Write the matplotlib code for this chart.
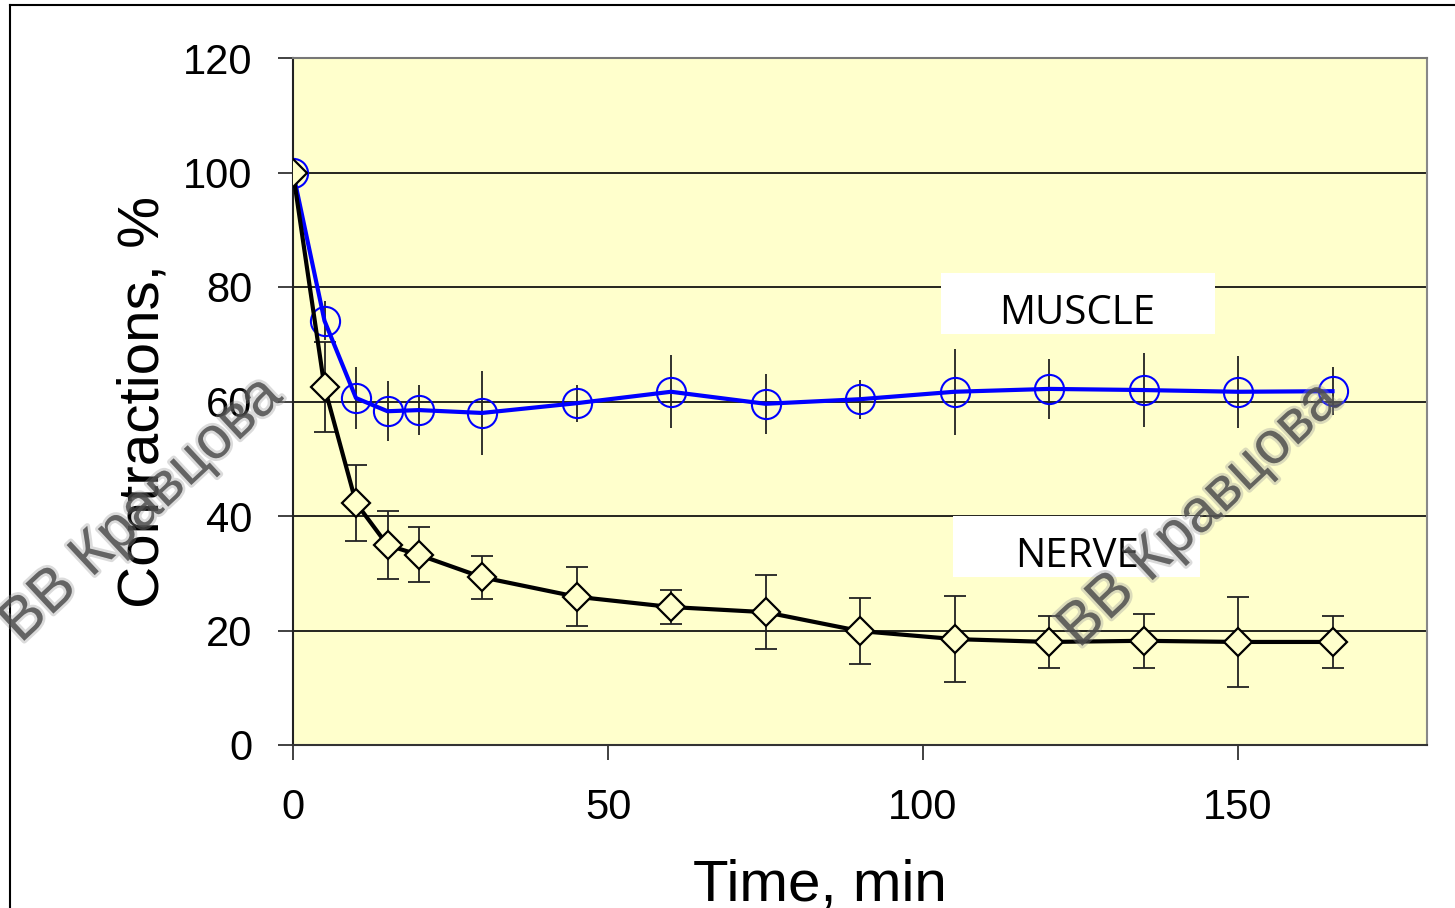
import matplotlib.pyplot as plt
import matplotlib.patheffects as pe
from matplotlib.patches import Rectangle

time_min = [0, 5, 10, 15, 20, 30, 45, 60, 75, 90, 105, 120, 135, 150, 165]

muscle = [100, 74.1, 60.6, 58.3, 58.5, 58.0, 59.7, 61.7, 59.6, 60.4, 61.7, 62.2, 62.0, 61.7, 61.8]
muscle_err = [0, 3.4, 5.4, 5.2, 4.3, 7.3, 3.2, 6.4, 5.2, 3.4, 7.5, 5.2, 6.4, 6.3, 4.2]

nerve = [100, 62.5, 42.3, 34.9, 33.2, 29.3, 25.9, 24.1, 23.2, 19.9, 18.5, 18.0, 18.2, 18.0, 18.0]
nerve_err = [0, 7.9, 6.6, 5.9, 4.8, 3.8, 5.2, 2.9, 6.5, 5.8, 7.5, 4.5, 4.7, 7.9, 4.5]

bg = "#ffffcc"
W, H = 1455, 908

fig = plt.figure(figsize=(14.55, 9.08), dpi=100)
ax = fig.add_axes([293 / W, 1 - 745 / H, (1427 - 293) / W, (745 - 58) / H])
ax.set_facecolor(bg)

# outer frame of the chart area
fig.add_artist(plt.Line2D([10 / W, 10 / W], [0, 1 - 5 / H], transform=fig.transFigure,
                          color="black", lw=1.5))
fig.add_artist(plt.Line2D([10 / W, 1], [1 - 5 / H, 1 - 5 / H], transform=fig.transFigure,
                          color="black", lw=1.5))

for y in [20, 40, 60, 80, 100]:
    ax.axhline(y, color="black", lw=1.2, zorder=1)

# muscle: open blue circles, error bars without caps
ax.errorbar(time_min, muscle, yerr=muscle_err, fmt="none", ecolor="#222222",
            elinewidth=1.3, capsize=0, zorder=2)
ax.plot(time_min, muscle, color="#0000ff", lw=3, marker="o", ms=21,
        mfc="none", mec="#0000ff", mew=1.5, zorder=4)

# nerve: diamonds, error bars with caps
ax.errorbar(time_min, nerve, yerr=nerve_err, fmt="none", ecolor="#222222",
            elinewidth=1.3, capsize=8, capthick=1.3, zorder=2)
ax.plot(time_min, nerve, color="black", lw=3, marker="D", ms=14.5,
        mfc=bg, mec="black", mew=1.6, zorder=5)

ax.set_xlim(0, 180)
ax.set_ylim(0, 120)
ax.set_xticks([0, 50, 100, 150])
ax.set_yticks(range(0, 121, 20))
ax.tick_params(axis="both", direction="out", length=11, width=1.3, color="#333333",
               labelsize=30)
ax.tick_params(axis="x", pad=20)
ax.tick_params(axis="y", pad=18)
for lab in ax.get_xticklabels() + ax.get_yticklabels():
    lab.set_fontfamily("Liberation Sans")

ax.spines["left"].set_color("#222222")
ax.spines["bottom"].set_color("#333333")
ax.spines["top"].set_color("#777777")
ax.spines["right"].set_color("#888888")
for s in ax.spines.values():
    s.set_linewidth(1.5)

ax.set_xlabel("Time, min", fontsize=42, family="Liberation Sans")
ax.set_ylabel("Contractions, %", fontsize=42, family="Liberation Sans")
ax.xaxis.set_label_coords(0.465, -0.165)
ax.yaxis.set_label_coords(-0.108, 0.5)

# white label boxes
for (x0, y0, x1, y1), name in [((941, 273, 1215, 334), "MUSCLE"),
                               ((953, 516, 1200, 577), "NERVE")]:
    fig.add_artist(Rectangle((x0 / W, 1 - y1 / H), (x1 - x0) / W, (y1 - y0) / H,
                             transform=fig.transFigure, fc="white", ec="none", zorder=6))
    fig.text(1077 / W, 1 - ((y0 + y1) / 2 + 10) / H, name, fontsize=29, family="Open Sans",
             ha="center", va="center", zorder=7)

# watermarks
for cx, cy in [(142, 510), (1200, 515)]:
    fig.text(cx / W, 1 - cy / H, "ВВ Кравцова", fontsize=43, family="Liberation Sans",
             color="#4a4a4a", alpha=0.75, rotation=43, ha="center", va="center", zorder=10,
             path_effects=[pe.withStroke(linewidth=4, foreground="#999999", alpha=0.35)])

fig.savefig("out.png", dpi=100)
